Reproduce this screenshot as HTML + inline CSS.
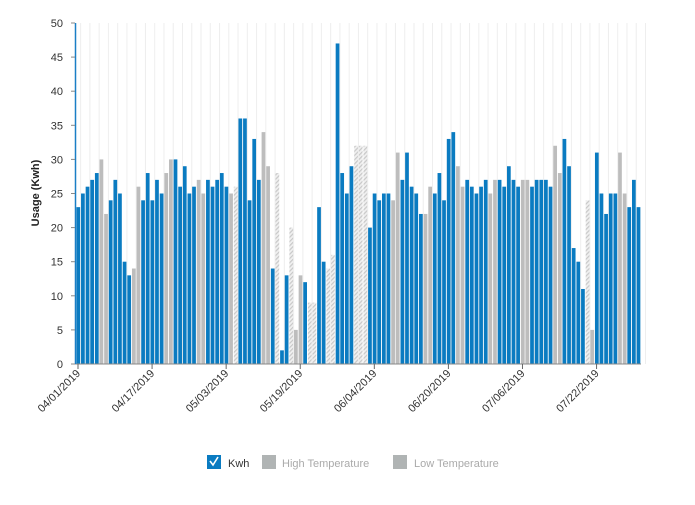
<!DOCTYPE html>
<html><head><meta charset="utf-8"><style>
html,body{margin:0;padding:0;background:#fff;}
body{width:695px;height:500px;overflow:hidden;font-family:"Liberation Sans",sans-serif;}
</style></head><body>
<svg id="c" width="695" height="500" xmlns="http://www.w3.org/2000/svg">
<defs>
<pattern id="h" width="3" height="3" patternUnits="userSpaceOnUse" patternTransform="rotate(45)">
<rect width="3" height="3" fill="#f0f0f0"/><rect width="1.2" height="3" fill="#c8c8c8"/>
</pattern>
</defs>
<g id="grid"></g>
<g id="bars"></g>
<line x1="75" y1="364" x2="641" y2="364" stroke="#888" stroke-width="1"/>
<line x1="75.5" y1="23" x2="75.5" y2="364" stroke="#1a7fc6" stroke-width="1.5"/>
<g id="ax" font-size="11" fill="#333"></g>
<text transform="translate(39,193) rotate(-90)" text-anchor="middle" font-size="11" font-weight="bold" fill="#222">Usage (Kwh)</text>
<rect x="207" y="455" width="14" height="14" fill="#0a7bc1"/>
<path d="M210 461 l3 4 l5 -8" stroke="#fff" stroke-width="1.6" fill="none"/>
<text x="228" y="467" font-size="11" fill="#333">Kwh</text>
<rect x="262" y="455" width="14" height="14" fill="#b0b4b4"/>
<text x="282" y="467" font-size="11" fill="#aaa">High Temperature</text>
<rect x="393" y="455" width="14" height="14" fill="#b0b4b4"/>
<text x="414" y="467" font-size="11" fill="#aaa">Low Temperature</text>
</svg>
<script>
var d="23b 25b 26b 27b 28b 30g 22g 24b 27b 25b 15b 13b 14g 26g 24b 28b 24b 27b 25b 28g 30g 30b 26b 29b 25b 26b 27g 25g 27b 26b 27b 28b 26b 25g 26h 36b 36b 24b 33b 27b 34g 29g 14b 28h 2b 13b 20h 5g 13g 12b 9h 9h 23b 15b 14h 16h 47b 28b 25b 29b 32h 32h 32h 20b 25b 24b 25b 25b 24g 31g 27b 31b 26b 25b 22b 22g 26g 25b 28b 24b 33b 34b 29g 26g 27b 26b 25b 26b 27b 25g 27g 27b 26b 29b 27b 26b 27g 27g 26b 27b 27b 27b 26b 32g 28g 33b 29b 17b 15b 11b 24h 5g 31b 25b 22b 25b 25b 31g 25g 23b 27b 23b".split(" ");
var x0=76,p=4.63,s=6.82,B="",G="",A="";
for(var i=0;i<=61;i++){G+='<line x1="'+(x0+i*2*p+p)+'" y1="23" x2="'+(x0+i*2*p+p)+'" y2="364" stroke="#eee" stroke-width="1"/>';}
d.forEach(function(v,i){var n=parseFloat(v),t=v.slice(-1),c=t=="b"?"#0a7bc1":t=="g"?"#bdbdbd":"url(#h)";
B+='<rect x="'+(x0+i*p+0.4).toFixed(2)+'" y="'+(364-n*s).toFixed(2)+'" width="'+(p-0.9).toFixed(2)+'" height="'+(n*s).toFixed(2)+'" fill="'+c+'"/>';});
for(var k=0;k<=10;k++){var y=364-k*5*s;A+='<text x="63" y="'+(y+4)+'" text-anchor="end">'+(k*5)+'</text><line x1="71" y1="'+y+'" x2="75" y2="'+y+'" stroke="#888"/>';}
var L=["04/01/2019","04/17/2019","05/03/2019","05/19/2019","06/04/2019","06/20/2019","07/06/2019","07/22/2019"];
L.forEach(function(l,j){var x=x0+2+j*16*p;A+='<line x1="'+x+'" y1="364" x2="'+x+'" y2="369" stroke="#666"/><text transform="translate('+(x+3)+',374) rotate(-45)" text-anchor="end">'+l+'</text>';});
document.getElementById("grid").innerHTML=G;document.getElementById("bars").innerHTML=B;document.getElementById("ax").innerHTML=A;
</script>
</body></html>
